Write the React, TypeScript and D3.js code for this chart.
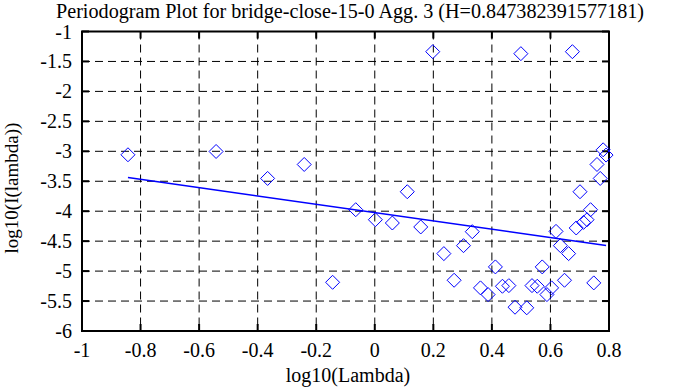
import React from "react";
import * as d3 from "d3";

const TITLE = "Periodogram Plot for bridge-close-15-0 Agg. 3 (H=0.847382391577181)";
const X_LABEL = "log10(Lambda)";
const Y_LABEL = "log10(I(lambda))";

const xTicks = [-1, -0.8, -0.6, -0.4, -0.2, 0, 0.2, 0.4, 0.6, 0.8];
const yTicks = [-1, -1.5, -2, -2.5, -3, -3.5, -4, -4.5, -5, -5.5, -6];

const logLambda = [
  -0.843, -0.542, -0.366, -0.241, -0.144, -0.065, 0.002, 0.06, 0.111, 0.157,
  0.198, 0.236, 0.271, 0.303, 0.333, 0.361, 0.387, 0.412, 0.436, 0.458,
  0.479, 0.499, 0.519, 0.537, 0.555, 0.572, 0.588, 0.604, 0.619, 0.634,
  0.648, 0.662, 0.675, 0.688, 0.701, 0.713, 0.725, 0.737, 0.748, 0.759,
  0.77, 0.78, 0.79,
];
const logI = [
  -3.058, -3.003, -3.453, -3.22, -5.187, -3.975, -4.142, -4.197, -3.675, -4.263,
  -1.337, -4.708, -5.153, -4.575, -4.342, -5.28, -5.392, -4.93, -5.253, -5.242,
  -5.603, -1.37, -5.613, -5.242, -5.253, -4.93, -5.392, -5.28, -4.337, -4.575,
  -5.153, -4.708, -1.337, -4.28, -3.675, -4.187, -4.142, -3.975, -5.197, -3.22,
  -3.453, -2.975, -3.063,
];
const fitSlope = [-0.6948];
const fitIntercept = [-4.023];

export default function App() {
  const W = 688, H = 387;
  const L = 82, R = 609, T = 31.5, B = 331;
  const x = d3.scaleLinear().domain([-1, 0.8]).range([L, R]);
  const y = d3.scaleLinear().domain([-6, -1]).range([B, T]);
  const font = "Liberation Serif, Times New Roman, Times, serif";
  const tickLen = 7;
  const x0 = logLambda[0], x1 = logLambda[logLambda.length - 1];
  const lineGen = d3.line<number>().x((d) => x(d)).y((d) => y(fitIntercept[0] + fitSlope[0] * d));

  return (
    <svg width={W} height={H} style={{ position: "absolute", left: 0, top: 0, background: "#fff" }}>
      <rect x={0} y={0} width={W} height={H} fill="#fff" />
      {/* grid */}
      {xTicks.slice(1, -1).map((t) => (
        <line key={"gx" + t} x1={x(t)} x2={x(t)} y1={T} y2={B} stroke="#000" strokeWidth={1} strokeDasharray="8,5" />
      ))}
      {yTicks.slice(1, -1).map((t) => (
        <line key={"gy" + t} x1={L} x2={R} y1={y(t)} y2={y(t)} stroke="#000" strokeWidth={1} strokeDasharray="8,5" />
      ))}
      {/* ticks */}
      {xTicks.map((t) => (
        <g key={"tx" + t}>
          <line x1={x(t)} x2={x(t)} y1={B} y2={B - tickLen} stroke="#000" strokeWidth={2} />
          <line x1={x(t)} x2={x(t)} y1={T} y2={T + tickLen} stroke="#000" strokeWidth={2} />
          <text x={x(t)} y={357} textAnchor="middle" fontFamily={font} fontSize={20}>{String(t)}</text>
        </g>
      ))}
      {yTicks.map((t) => (
        <g key={"ty" + t}>
          <line x1={L} x2={L + tickLen} y1={y(t)} y2={y(t)} stroke="#000" strokeWidth={2} />
          <line x1={R} x2={R - tickLen} y1={y(t)} y2={y(t)} stroke="#000" strokeWidth={2} />
          <text x={72} y={y(t) + 7} textAnchor="end" fontFamily={font} fontSize={20}>{String(t)}</text>
        </g>
      ))}
      {/* frame */}
      <rect x={L} y={T} width={R - L} height={B - T} fill="none" stroke="#000" strokeWidth={2} />
      {/* fit line */}
      <path d={lineGen([x0, x1]) || ""} stroke="#0000ff" strokeWidth={1.5} fill="none" />
      {/* points */}
      {logLambda.map((lx, i) => {
        const cx = x(lx), cy = y(logI[i]);
        const s = 7;
        return (
          <path key={"p" + i} d={`M${cx},${cy - s}L${cx + s},${cy}L${cx},${cy + s}L${cx - s},${cy}Z`} fill="none" stroke="#0000ff" strokeWidth={1} />
        );
      })}
      {/* labels */}
      <text x={350} y={18} textAnchor="middle" fontFamily={font} fontSize={20} textLength={588} lengthAdjust="spacingAndGlyphs">{TITLE}</text>
      <text x={348} y={382} textAnchor="middle" fontFamily={font} fontSize={20}>{X_LABEL}</text>
      <text transform={`translate(18,188) rotate(-90)`} textAnchor="middle" fontFamily={font} fontSize={19}>{Y_LABEL}</text>
    </svg>
  );
}
